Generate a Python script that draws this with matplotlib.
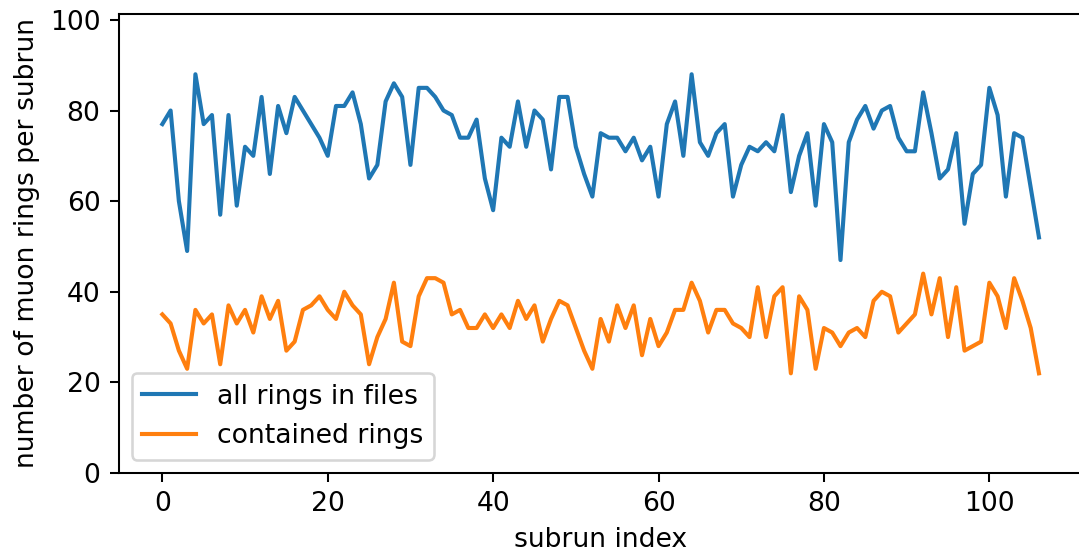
import matplotlib
matplotlib.use("Agg")
import matplotlib.pyplot as plt
import numpy as np

subrun = list(range(107))
all_rings = [77, 80, 60, 49, 88, 77, 79, 57, 79, 59,
             72, 70, 83, 66, 81, 75, 83, 80, 77, 74,
             70, 81, 81, 84, 77, 65, 68, 82, 86, 83,
             68, 85, 85, 83, 80, 79, 74, 74, 78, 65,
             58, 74, 72, 82, 72, 80, 78, 67, 83, 83,
             72, 66, 61, 75, 74, 74, 71, 74, 69, 72,
             61, 77, 82, 70, 88, 73, 70, 75, 77, 61,
             68, 72, 71, 73, 71, 79, 62, 70, 75, 59,
             77, 73, 47, 73, 78, 81, 76, 80, 81, 74,
             71, 71, 84, 75, 65, 67, 75, 55, 66, 68,
             85, 79, 61, 75, 74, 63, 52]
contained = [35, 33, 27, 23, 36, 33, 35, 24, 37, 33,
             36, 31, 39, 34, 38, 27, 29, 36, 37, 39,
             36, 34, 40, 37, 35, 24, 30, 34, 42, 29,
             28, 39, 43, 43, 42, 35, 36, 32, 32, 35,
             32, 35, 32, 38, 34, 37, 29, 34, 38, 37,
             32, 27, 23, 34, 29, 37, 32, 37, 26, 34,
             28, 31, 36, 36, 42, 38, 31, 36, 36, 33,
             32, 30, 41, 30, 39, 41, 22, 39, 36, 23,
             32, 31, 28, 31, 32, 30, 38, 40, 39, 31,
             33, 35, 44, 35, 43, 30, 41, 27, 28, 29,
             42, 39, 32, 43, 38, 32, 22]
labels = ["all rings in files", "contained rings"]

plt.rcParams["font.size"] = 10.35
plt.rcParams["lines.linewidth"] = 1.6

DPI = 185
fig = plt.figure(figsize=(1079 / DPI, 553 / DPI), dpi=DPI)
ax = fig.add_axes([118.5 / 1079, 80 / 553, 964.3 / 1079, 459 / 553])
ax.plot(subrun, all_rings, label=labels[0])
ax.plot(subrun, contained, label=labels[1])
ax.set_ylim(0, 101.3)
ax.set_xlabel("subrun index")
ax.set_ylabel("number of muon rings per subrun")
ax.legend(loc="lower left")
fig.savefig("out.png", dpi=DPI)
